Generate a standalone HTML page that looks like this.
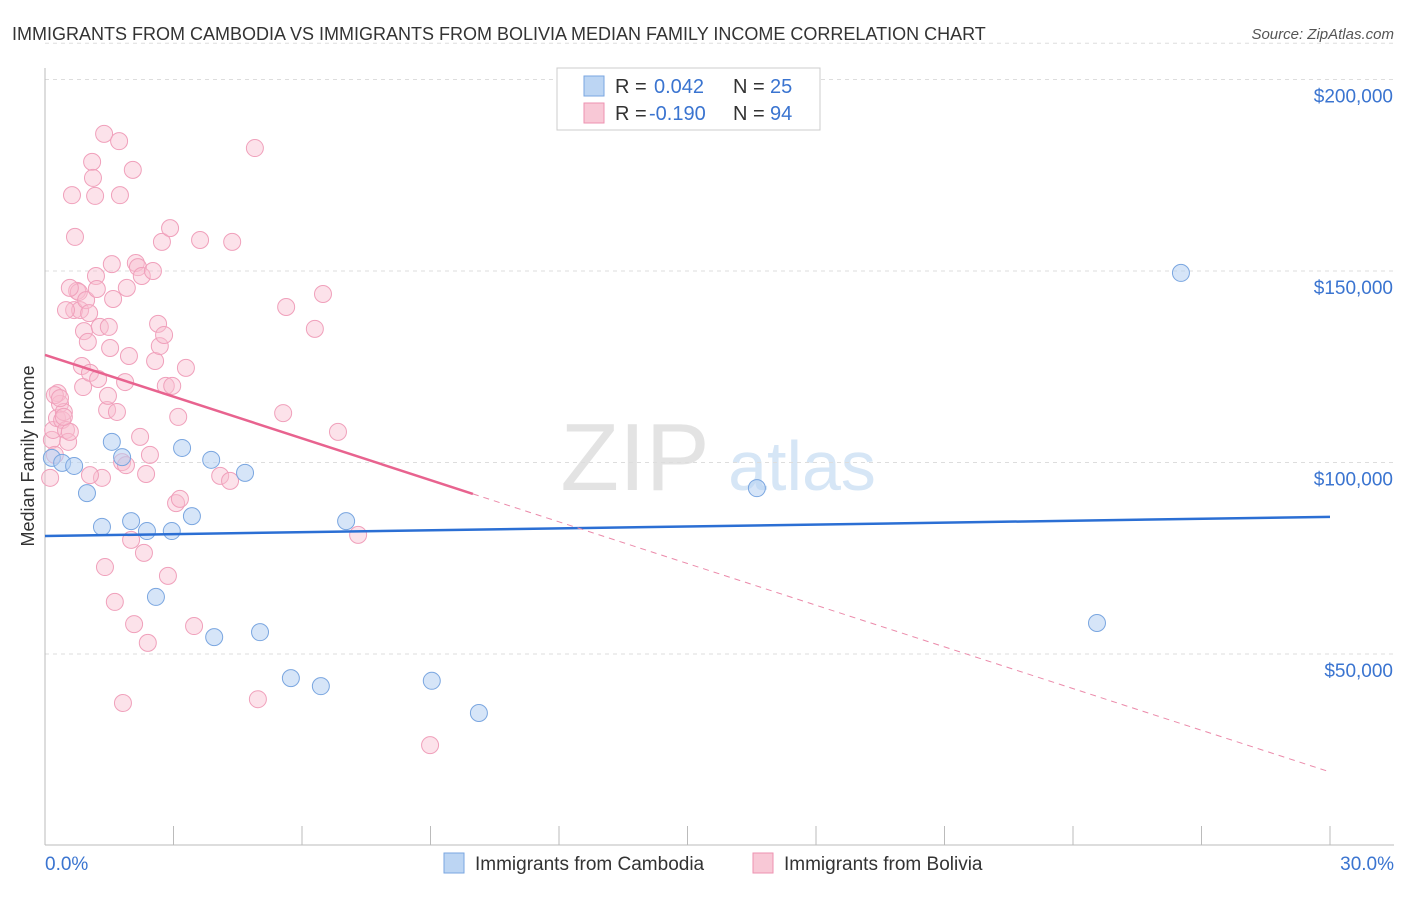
<!DOCTYPE html>
<html><head><meta charset="utf-8">
<style>
body{margin:0;background:#fff;font-family:"Liberation Sans",sans-serif;}
svg text{font-family:"Liberation Sans",sans-serif;}
</style></head>
<body>
<svg id="chart" width="1406" height="892" viewBox="0 0 1406 892" xmlns="http://www.w3.org/2000/svg">
<text x="12" y="40" font-size="18" fill="#333">IMMIGRANTS FROM CAMBODIA VS IMMIGRANTS FROM BOLIVIA MEDIAN FAMILY INCOME CORRELATION CHART</text>
<text x="1394" y="39" font-size="15" fill="#555" text-anchor="end" font-style="italic">Source: ZipAtlas.com</text>
<g>
<text x="635" y="490" font-size="96" fill="#e3e3e3" font-family="Liberation Serif" text-anchor="middle">ZIP</text>
<text x="802" y="490" font-size="70" fill="#d6e6f6" text-anchor="middle">atlas</text>
</g>
<g id="grid"></g>
<g id="axes"></g>
<g id="marks"></g>
<text transform="translate(34,456) rotate(-90)" font-size="18" fill="#333" text-anchor="middle">Median Family Income</text>
<g>
<rect x="557" y="68" width="263" height="62" fill="#fff" stroke="#ccc"/>
<rect x="584" y="76" width="20" height="20" fill="#bcd5f3" stroke="#7aa6e0"/>
<text x="615" y="93" font-size="20" fill="#333">R =</text>
<text x="654" y="93" font-size="20" fill="#3a74d0">0.042</text>
<text x="733" y="93" font-size="20" fill="#333">N =</text>
<text x="770" y="93" font-size="20" fill="#3a74d0">25</text>
<rect x="584" y="103" width="20" height="20" fill="#f8c8d6" stroke="#ee92b0"/>
<text x="615" y="120" font-size="20" fill="#333">R =</text>
<text x="649" y="120" font-size="20" fill="#3a74d0">-0.190</text>
<text x="733" y="120" font-size="20" fill="#333">N =</text>
<text x="770" y="120" font-size="20" fill="#3a74d0">94</text>
</g>
<g>
<rect x="444" y="853" width="20" height="20" fill="#bcd5f3" stroke="#7aa6e0"/>
<text x="475" y="870" font-size="19" fill="#333">Immigrants from Cambodia</text>
<rect x="753" y="853" width="20" height="20" fill="#f8c8d6" stroke="#ee92b0"/>
<text x="784" y="870" font-size="19" fill="#333">Immigrants from Bolivia</text>
</g>
</svg>
<script>
const yTicks=[50000,100000,150000,200000];
const yTickLabels=["$50,000","$100,000","$150,000","$200,000"];
const xEndLabels=["0.0%","30.0%"];
const cambX=[0.16,0.40,0.68,0.98,1.33,1.56,1.80,2.01,2.38,2.59,2.96,3.20,3.43,3.88,3.95,4.67,5.02,5.74,6.44,7.03,9.03,10.13,16.62,24.56,26.52];
const cambY=[101.2,99.9,99.1,92.0,83.2,105.4,101.4,84.7,82.1,64.9,82.1,103.8,86.0,100.7,54.4,97.3,55.7,43.7,41.6,84.7,43.0,34.6,93.3,58.1,149.5];
const bolX=[0.12,0.16,0.19,0.23,0.28,0.30,0.35,0.40,0.44,0.49,0.54,0.58,0.63,0.68,0.70,0.75,0.79,0.82,0.86,0.89,0.91,0.96,1.00,1.03,1.05,1.10,1.12,1.17,1.19,1.21,1.24,1.28,1.33,1.38,1.40,1.45,1.49,1.52,1.56,1.59,1.63,1.68,1.73,1.75,1.80,1.82,1.87,1.91,1.96,2.01,2.05,2.08,2.12,2.17,2.22,2.26,2.31,2.36,2.40,2.45,2.52,2.57,2.64,2.68,2.73,2.78,2.82,2.87,2.92,2.97,3.06,3.11,3.15,3.29,3.48,3.62,4.09,4.32,4.37,4.90,4.97,5.56,5.63,6.30,6.49,6.84,7.31,8.99,0.23,0.35,0.44,0.49,0.58,1.05,1.89,1.47];
const bolY=[96.0,105.9,108.5,102.0,111.6,118.1,115.3,111.1,113.2,108.5,105.4,108.0,169.8,139.8,158.9,144.8,144.5,139.8,125.2,119.7,134.3,142.4,131.5,139.0,123.4,178.5,174.3,169.6,148.7,145.3,121.8,135.4,96.0,185.8,72.7,113.7,135.4,129.9,151.8,142.7,63.6,113.2,183.9,169.8,100.1,37.2,121.0,145.6,127.8,79.8,176.4,57.8,152.1,151.0,106.7,148.7,76.4,97.0,52.9,102.0,150.0,126.5,136.2,130.4,157.6,133.3,120.0,70.4,161.2,120.0,89.4,111.9,90.5,124.7,57.3,158.1,96.5,95.2,157.6,182.1,38.2,112.9,140.6,134.9,144.0,108.0,81.1,26.2,117.6,116.8,111.9,139.8,145.6,96.7,99.3,117.4];
const cambTrendX=[0,30];
const cambTrendY=[80.8,85.8];
const bolTrendX=[0,9.99,30];
const bolTrendY=[128.1,91.8,19.2];

const NS="http://www.w3.org/2000/svg";
function sx(p){return 45+p*(1330-45)/30;}
function sy(v){return 845.5-v*191.5/50000;}
function syk(k){return sy(k*1000);}
function mk(tag,attrs,parent){const e=document.createElementNS(NS,tag);for(const k in attrs)e.setAttribute(k,attrs[k]);parent.appendChild(e);return e;}
const grid=document.getElementById('grid'),axes=document.getElementById('axes'),marks=document.getElementById('marks');
yTicks.forEach((t,i)=>{
  const l=mk('line',{x1:45,x2:1394,y1:sy(t),y2:sy(t),stroke:'#ddd','stroke-dasharray':'4,4'},grid);
  
  
  const tx=mk('text',{x:1393,y:sy(t)+23,'font-size':19,fill:'#3a74d0','text-anchor':'end'},axes);
  tx.textContent=yTickLabels[i];
  
  
});
let g=mk('line',{x1:45,x2:1394,y1:sy(210000)+2,y2:sy(210000)+2,stroke:'#ddd','stroke-dasharray':'4,4'},grid);


let ax=mk('line',{x1:45,x2:45,y1:68,y2:845,stroke:'#bbb'},axes);


let bx=mk('line',{x1:45,x2:1394,y1:845,y2:845,stroke:'#bbb'},axes);


for(let i=0;i<=10;i++){
  const p=i*3;
  const t=mk('line',{x1:sx(p),x2:sx(p),y1:826,y2:845,stroke:'#bbb'},axes);
  
  
}
[[0,'start',45],[30,'end',1394]].forEach((a,i)=>{
  const t=mk('text',{x:a[2],y:870,'font-size':19,fill:'#3a74d0','text-anchor':a[1]},axes);
  t.textContent=xEndLabels[i];
  
  
});
bolX.forEach((x,i)=>{
  const c=mk('circle',{cx:sx(x),cy:syk(bolY[i]),r:8.5,fill:'rgba(248,190,208,0.45)',stroke:'#f0a0bb','stroke-width':1},marks);
  
  
});
cambX.forEach((x,i)=>{
  const c=mk('circle',{cx:sx(x),cy:syk(cambY[i]),r:8.5,fill:'rgba(180,208,243,0.55)',stroke:'#7aa6e0','stroke-width':1},marks);
  
  
});
let cl=mk('line',{x1:sx(cambTrendX[0]),y1:syk(cambTrendY[0]),x2:sx(cambTrendX[1]),y2:syk(cambTrendY[1]),stroke:'#2b6fd4','stroke-width':2.5},marks);


let bl=mk('line',{x1:sx(bolTrendX[0]),y1:syk(bolTrendY[0]),x2:sx(bolTrendX[1]),y2:syk(bolTrendY[1]),stroke:'#e8638f','stroke-width':2.5},marks);


let bd=mk('line',{x1:sx(bolTrendX[1]),y1:syk(bolTrendY[1]),x2:sx(bolTrendX[2]),y2:syk(bolTrendY[2]),stroke:'#eb8aaa','stroke-width':1,'stroke-dasharray':'6,5'},marks);


</script>
</body></html>
